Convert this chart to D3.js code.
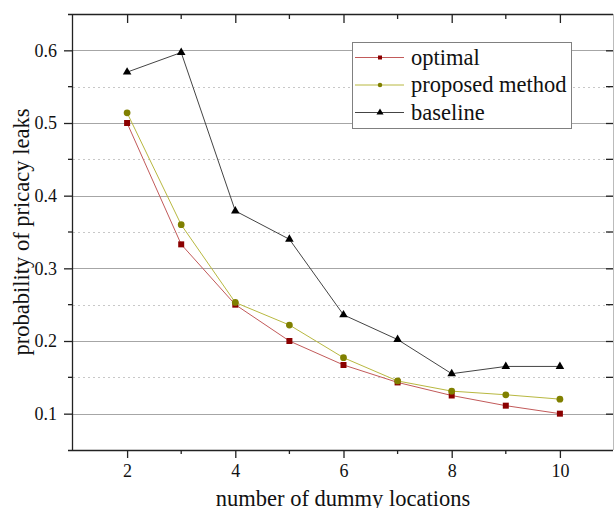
<!DOCTYPE html>
<html>
<head>
<meta charset="utf-8">
<script src="https://cdn.jsdelivr.net/npm/d3@7"></script>
<style>
  html, body { margin: 0; padding: 0; background: #fff; }
  svg { display: block; }
  text { font-family: "Liberation Serif", "Times New Roman", serif; fill: #111; }
</style>
</head>
<body>
<svg id="chart" width="614" height="508"></svg>
<script>
// number of dummy locations on the x axis
const dummyCounts = [2, 3, 4, 5, 6, 7, 8, 9, 10];
// probability of privacy leaks for each method
const optimal  = [0.500, 0.333, 0.250, 0.200, 0.167, 0.143, 0.125, 0.111, 0.100];
const proposed = [0.514, 0.360, 0.253, 0.222, 0.177, 0.145, 0.131, 0.126, 0.120];
const baseline = [0.570, 0.597, 0.379, 0.340, 0.236, 0.202, 0.155, 0.165, 0.165];
const seriesNames = ["optimal", "proposed method", "baseline"];
const xTickValues = [2, 4, 6, 8, 10];
const yTickValues = [0.1, 0.2, 0.3, 0.4, 0.5, 0.6];
const yMinorValues = [0.15, 0.25, 0.35, 0.45, 0.55];

const svg = d3.select("#chart");
const plot = { left: 73, right: 613, top: 14, bottom: 450 };

const x = d3.scaleLinear().domain([1, 11]).range([plot.left, 614]);
const y = d3.scaleLinear().domain([0.05, 0.65]).range([plot.bottom, plot.top]);

// grid lines
const grid = svg.append("g");
grid.selectAll("line.major").data(yTickValues).join("line")
  .attr("x1", plot.left).attr("x2", plot.right)
  .attr("y1", d => Math.round(y(d)) + 0.5).attr("y2", d => Math.round(y(d)) + 0.5)
  .attr("stroke", "#a6a6a6").attr("stroke-width", 1);
grid.selectAll("line.minor").data(yMinorValues).join("line")
  .attr("x1", plot.left).attr("x2", plot.right)
  .attr("y1", d => Math.round(y(d)) + 0.5).attr("y2", d => Math.round(y(d)) + 0.5)
  .attr("stroke", "#c8c8c8").attr("stroke-width", 1).attr("stroke-dasharray", "2,3");

const oddX = d3.range(3, 11, 2);

// bottom axis
const bottomAxis = svg.append("g").attr("transform", `translate(0,${plot.bottom})`)
  .call(d3.axisBottom(x).tickValues(xTickValues).tickSize(8).tickPadding(6).tickFormat(d3.format("d")));
bottomAxis.selectAll(".tick text").style("font-size", "18px").style("font-family", "Liberation Serif, serif");
bottomAxis.select(".domain").attr("d", `M${plot.left - 5},0.5H${plot.right}`);
bottomAxis.append("g").selectAll("line").data(oddX).join("line")
  .attr("x1", d => x(d)).attr("x2", d => x(d)).attr("y1", 0).attr("y2", 4);

// top axis, inward ticks
const topAxis = svg.append("g").attr("transform", `translate(0,${plot.top})`)
  .call(d3.axisTop(x).tickValues(xTickValues).tickSize(-9).tickFormat(""));
topAxis.select(".domain").attr("d", `M${plot.left - 5},0.5H${plot.right}`);
topAxis.append("g").selectAll("line").data(oddX).join("line")
  .attr("x1", d => x(d)).attr("x2", d => x(d)).attr("y1", 0).attr("y2", 5);

// left axis
const leftAxis = svg.append("g").attr("transform", `translate(${plot.left},0)`)
  .call(d3.axisLeft(y).tickValues(yTickValues).tickSize(9).tickPadding(7).tickFormat(d3.format(".1f")));
leftAxis.selectAll(".tick text").style("font-size", "18px").style("font-family", "Liberation Serif, serif");
leftAxis.select(".domain").attr("d", `M-0.5,${plot.top}V${plot.bottom + 1}`);
leftAxis.append("g").selectAll("line").data(yMinorValues).join("line")
  .attr("x1", -5).attr("x2", 0).attr("y1", d => y(d)).attr("y2", d => y(d));

// right axis, inward ticks
const rightAxis = svg.append("g").attr("transform", `translate(${plot.right},0)`)
  .call(d3.axisRight(y).tickValues(yTickValues).tickSize(-7).tickFormat(""));
rightAxis.select(".domain").attr("d", `M0.5,${plot.top}V${plot.bottom}`);
rightAxis.append("g").selectAll("line").data(yMinorValues).join("line")
  .attr("x1", -7).attr("x2", 0).attr("y1", d => y(d)).attr("y2", d => y(d));

svg.selectAll(".domain").attr("stroke", "#222").attr("stroke-width", 1.3);
rightAxis.select(".domain").attr("stroke", "#bbb").attr("stroke-width", 1);
svg.selectAll(".tick line").attr("stroke", "#222").attr("stroke-width", 1.3);
[bottomAxis, topAxis, leftAxis, rightAxis].forEach(a =>
  a.selectAll("g > g:not(.tick) line").attr("stroke", "#222").attr("stroke-width", 1.3));

// series
const series = [
  { name: seriesNames[0], values: optimal,  marker: "square",   color: "#8b0000", line: "#c25a5a" },
  { name: seriesNames[1], values: proposed, marker: "circle",   color: "#808000", line: "#b8b840" },
  { name: seriesNames[2], values: baseline, marker: "triangle", color: "#000000", line: "#444444" }
];

const symbolFor = (m, size) => {
  const type = m === "square" ? d3.symbolSquare : m === "circle" ? d3.symbolCircle : d3.symbolTriangle;
  return d3.symbol().type(type).size(size)();
};
const markerSize = { square: 36, circle: 36, triangle: 32 };

const line = d3.line().x((d, i) => x(dummyCounts[i])).y(d => y(d));

series.forEach(s => {
  svg.append("path").datum(s.values)
    .attr("d", line).attr("fill", "none")
    .attr("stroke", s.line).attr("stroke-width", 1);
  svg.append("g").selectAll("path").data(s.values).join("path")
    .attr("transform", (d, i) => `translate(${x(dummyCounts[i])},${y(d)})`)
    .attr("d", symbolFor(s.marker, markerSize[s.marker]))
    .attr("fill", s.color);
});

// legend
const legend = svg.append("g");
legend.append("rect")
  .attr("x", 352.5).attr("y", 42.5).attr("width", 219).attr("height", 86)
  .attr("fill", "#fff").attr("stroke", "#808080").attr("stroke-width", 1);
const rowY = [57.5, 85, 112.5];
series.forEach((s, i) => {
  legend.append("line")
    .attr("x1", 355).attr("x2", 404).attr("y1", rowY[i]).attr("y2", rowY[i])
    .attr("stroke", s.line).attr("stroke-width", 1);
  legend.append("path")
    .attr("transform", `translate(380,${rowY[i]})`)
    .attr("d", symbolFor(s.marker, s.marker === "triangle" ? 22 : 16))
    .attr("fill", s.color);
  legend.append("text")
    .attr("x", 411).attr("y", rowY[i]).attr("dy", "0.33em")
    .style("font-size", "22.5px")
    .text(s.name);
});

// axis titles
svg.append("text")
  .attr("x", (plot.left + plot.right) / 2).attr("y", 506)
  .attr("text-anchor", "middle").style("font-size", "22.5px")
  .text("number of dummy locations");
svg.append("text")
  .attr("transform", `translate(29,${(plot.top + plot.bottom) / 2}) rotate(-90)`)
  .attr("text-anchor", "middle").style("font-size", "22.5px")
  .text("probability of pricacy leaks");
</script>
</body>
</html>
